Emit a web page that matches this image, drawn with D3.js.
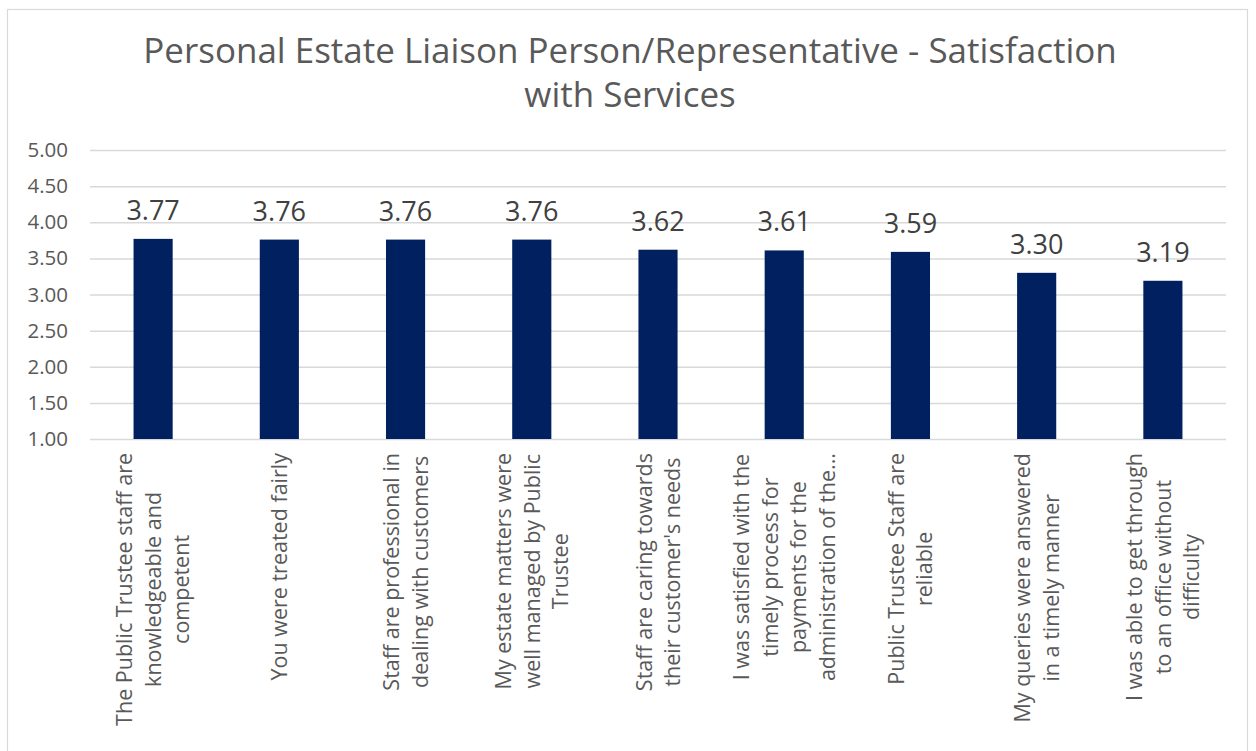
<!DOCTYPE html>
<html>
<head>
<meta charset="utf-8">
<script src="https://cdn.jsdelivr.net/npm/d3@7"></script>
<style>
  html, body { margin: 0; padding: 0; background: #fff; }
  svg { display: block; font-family: "Open Sans", "Noto Sans", sans-serif; }
</style>
</head>
<body>
<svg id="chart" width="1256" height="751"></svg>
<script>
// Survey items (line breaks mark where each axis label wraps)
const categories = [
  "The Public Trustee staff are\nknowledgeable and\ncompetent",
  "You were treated fairly",
  "Staff are professional in\ndealing with customers",
  "My estate matters were\nwell managed by Public\nTrustee",
  "Staff are caring towards\ntheir customer's needs",
  "I was satisfied with the\ntimely process for\npayments for the\nadministration of the...",
  "Public Trustee Staff are\nreliable",
  "My queries were answered\nin a timely manner",
  "I was able to get through\nto an office without\ndifficulty"
];
// Mean satisfaction score per item
const scores = [3.77, 3.76, 3.76, 3.76, 3.62, 3.61, 3.59, 3.30, 3.19];
// Value-axis ticks
const yTicks = [1.00, 1.50, 2.00, 2.50, 3.00, 3.50, 4.00, 4.50, 5.00];
const titleLines = [
  "Personal Estate Liaison Person/Representative - Satisfaction",
  "with Services"
];

const svg = d3.select("#chart");
const plot = { left: 90, right: 1226, top: 150, bottom: 439 };

// Chart-area frame
svg.append("rect")
  .attr("x", 7.5).attr("y", 9.5)
  .attr("width", 1240).attr("height", 800)
  .attr("fill", "#fff").attr("stroke", "#d9d9d9").attr("stroke-width", 1.2);

// Title
const title = svg.append("text")
  .attr("text-anchor", "middle")
  .attr("fill", "#595959")
  .style("font-size", "34px");
titleLines.forEach((t, i) => {
  title.append("tspan").attr("x", 630).attr("y", 63 + i * 44).text(t);
});
// fit first title line to its width
const firstLen = title.select("tspan").node().getComputedTextLength();
const titleSize = 34 * 974 / firstLen;
title.style("font-size", titleSize + "px");

const x = d3.scaleBand()
  .domain(categories)
  .range([plot.left, plot.right])
  .paddingInner(0.69)
  .paddingOuter(0.345);

const y = d3.scaleLinear()
  .domain([1, 5])
  .range([plot.bottom, plot.top]);

// Gridlines and value-axis labels
const yAxis = d3.axisLeft(y)
  .tickValues(yTicks)
  .tickSize(-(plot.right - plot.left))
  .tickPadding(22)
  .tickFormat(d3.format(".2f"));

const yg = svg.append("g")
  .attr("transform", `translate(${plot.left},0)`)
  .call(yAxis);
yg.select(".domain").remove();
yg.selectAll(".tick line").attr("stroke", "#d9d9d9").attr("stroke-width", 1.5);
yg.selectAll(".tick text")
  .attr("fill", "#595959")
  .style("font-size", "20.5px")
  .style("font-family", "'Open Sans', 'Noto Sans', sans-serif");

// Bars
svg.append("g")
  .selectAll("rect")
  .data(categories)
  .join("rect")
  .attr("x", d => x(d))
  .attr("width", x.bandwidth())
  .attr("y", (d, i) => y(scores[i]))
  .attr("height", (d, i) => y(1) - y(scores[i]))
  .attr("fill", "#002060");

// Value labels
svg.append("g")
  .selectAll("text")
  .data(categories)
  .join("text")
  .attr("x", d => x(d) + x.bandwidth() / 2)
  .attr("y", (d, i) => y(scores[i]) - 19)
  .attr("text-anchor", "middle")
  .attr("fill", "#404040")
  .style("font-size", "27px")
  .text((d, i) => d3.format(".2f")(scores[i]));

// Rotated, wrapped category labels
const lineStep = 28.5;
const catG = svg.append("g")
  .selectAll("g")
  .data(categories)
  .join("g")
  .attr("transform", d => `translate(${x(d) + x.bandwidth() / 2},453) rotate(-90)`);

catG.each(function (d) {
  const g = d3.select(this);
  const lines = d.split("\n");
  const n = lines.length;
  const texts = lines.map((line, i) =>
    g.append("text")
      .attr("y", (i - (n - 1) / 2) * lineStep)
      .attr("dy", "0.36em")
      .attr("text-anchor", "middle")
      .attr("fill", "#595959")
      .style("font-size", "21.5px")
      .text(line)
  );
  const maxW = d3.max(texts, t => t.node().getComputedTextLength());
  texts.forEach(t => t.attr("x", -maxW / 2));
});
</script>
</body>
</html>
